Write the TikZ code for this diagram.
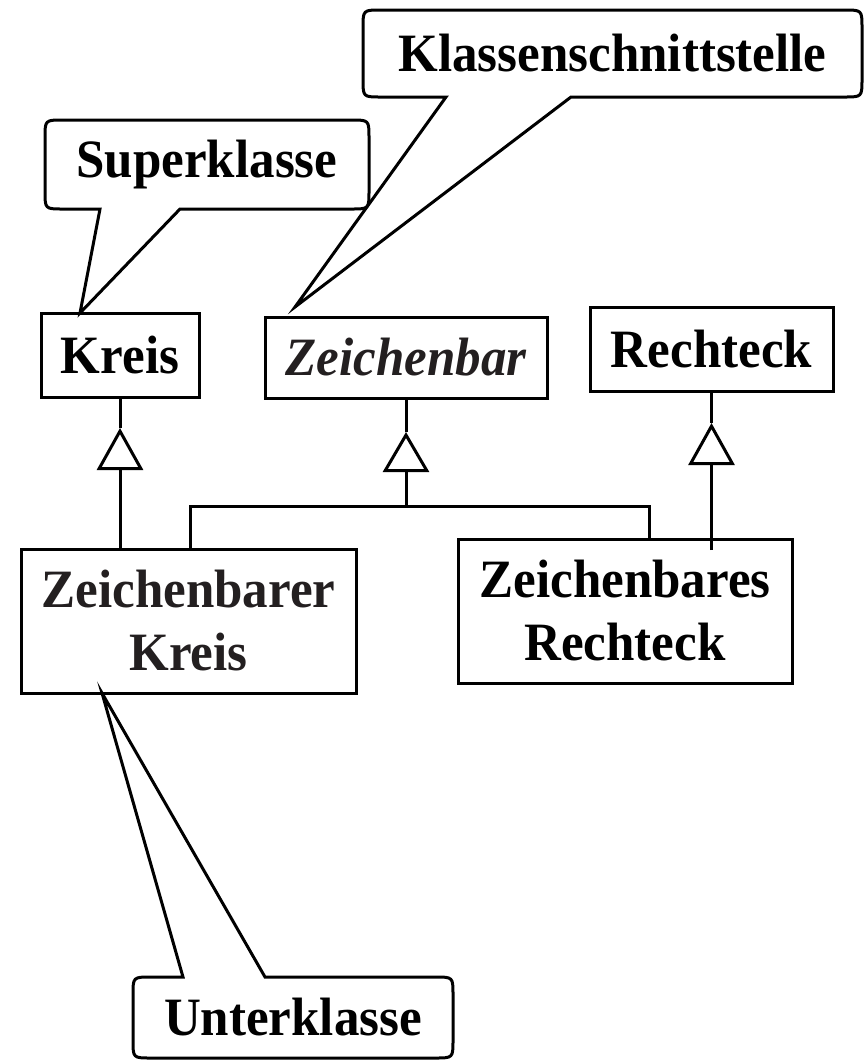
\documentclass[tikz,border=0pt]{standalone}
\usepackage{fontspec}
\setmainfont{Liberation Serif}[FakeStretch=0.945]
\usetikzlibrary{arrows.meta,calc}
\definecolor{inkgray}{HTML}{231F20}
\begin{document}
\begin{tikzpicture}[x=1pt,y=-1pt,line width=3pt,
  every node/.style={inner sep=0pt,outer sep=0pt,font=\fontsize{54pt}{63pt}\selectfont\bfseries},
  classbox/.style={draw,rectangle,align=center},
  calloutlabel/.style={rectangle,align=center},
  outline/.style={line join=miter},
  gentip/.style={-{Triangle[open,length=#1,width=46pt]}},
  gentip/.default=41pt]
\useasboundingbox (0,0) rectangle (865,1061);

% class boxes
\node[classbox,minimum width=158pt,minimum height=84pt] (kreis) at (120,355) {Kreis};
\node[classbox,minimum width=282pt,minimum height=81pt,text=inkgray,font=\fontsize{54pt}{63pt}\selectfont\bfseries\itshape] (zb) at (406,357.5) {Zeichenbar};
\node[classbox,minimum width=243pt,minimum height=84pt] (re) at (711.5,349) {Rechteck};
\node[classbox,minimum width=335pt,minimum height=144pt,text=inkgray] (zk) at (188.5,621) {Zeichenbarer\\Kreis};
\node[classbox,minimum width=334pt,minimum height=144pt] (zr) at (625,611) {Zeichenbares\\Rechteck};

% callout labels
\node[calloutlabel,minimum width=324pt,minimum height=89pt] (sk) at (207,164.5) {Superklasse};
\node[calloutlabel,minimum width=499pt,minimum height=87pt] (ks) at (612.5,53.5) {Klassenschnittstelle};
\node[calloutlabel,minimum width=320pt,minimum height=81pt] (uk) at (293,1017.5) {Unterklasse};

% callout outlines
\draw[outline] ($(sk.south west)+(135,0)$) -- ($(sk.south east)+(-18,0)$)
  .. controls (sk.south east) .. ($(sk.south east)+(0,-18)$)
  -- ($(sk.north east)+(0,18)$) .. controls (sk.north east) .. ($(sk.north east)+(-18,0)$)
  -- ($(sk.north west)+(18,0)$) .. controls (sk.north west) .. ($(sk.north west)+(0,18)$)
  -- ($(sk.south west)+(0,-18)$) .. controls (sk.south west) .. ($(sk.south west)+(18,0)$)
  -- ($(sk.south west)+(55,0)$) -- ($(kreis.north west)+(39,0)$) -- cycle;

\draw[outline] ($(ks.south west)+(208,0)$) -- ($(ks.south east)+(-18,0)$)
  .. controls (ks.south east) .. ($(ks.south east)+(0,-18)$)
  -- ($(ks.north east)+(0,18)$) .. controls (ks.north east) .. ($(ks.north east)+(-18,0)$)
  -- ($(ks.north west)+(18,0)$) .. controls (ks.north west) .. ($(ks.north west)+(0,18)$)
  -- ($(ks.south west)+(0,-18)$) .. controls (ks.south west) .. ($(ks.south west)+(18,0)$)
  -- ($(ks.south west)+(83,0)$) -- ($(zb.north west)+(30,-10)$) -- cycle;

\draw[outline] ($(uk.north west)+(50,0)$) -- ($(uk.north west)+(18,0)$)
  .. controls (uk.north west) .. ($(uk.north west)+(0,18)$)
  -- ($(uk.south west)+(0,-18)$) .. controls (uk.south west) .. ($(uk.south west)+(18,0)$)
  -- ($(uk.south east)+(-18,0)$) .. controls (uk.south east) .. ($(uk.south east)+(0,-18)$)
  -- ($(uk.north east)+(0,18)$) .. controls (uk.north east) .. ($(uk.north east)+(-18,0)$)
  -- ($(uk.north west)+(132,0)$) -- ($(zk.south west)+(81,0)$) -- cycle;

% generalisation: Zeichenbarer Kreis -> Kreis
\coordinate (t1) at ($(kreis.south)+(0,31)$);
\draw (kreis.south) -- (t1);
\draw[gentip=42pt] (kreis.south |- zk.north) -- (t1);

% generalisation: Rechteck
\coordinate (t3) at ($(re.south)+(0,32)$);
\draw (re.south) -- (t3);
\draw[gentip=42pt] ($(re.south |- zr.north)+(0,11)$) -- (t3);

% generalisation: Zeichenbar (shared bus)
\coordinate (busL) at ($(zk.north west)!0.505!(zk.north east)$);
\coordinate (busR) at ($(zr.north west)!0.572!(zr.north east)$);
\coordinate (busY) at ($(busL)+(0,-43)$);
\draw (busL) -- (busY) -| (busR);
\coordinate (t2) at ($(zb.south)+(0,34)$);
\draw (zb.south) -- (t2);
\draw[gentip=40pt] (zb.south |- busY) -- (t2);
\end{tikzpicture}
\end{document}
